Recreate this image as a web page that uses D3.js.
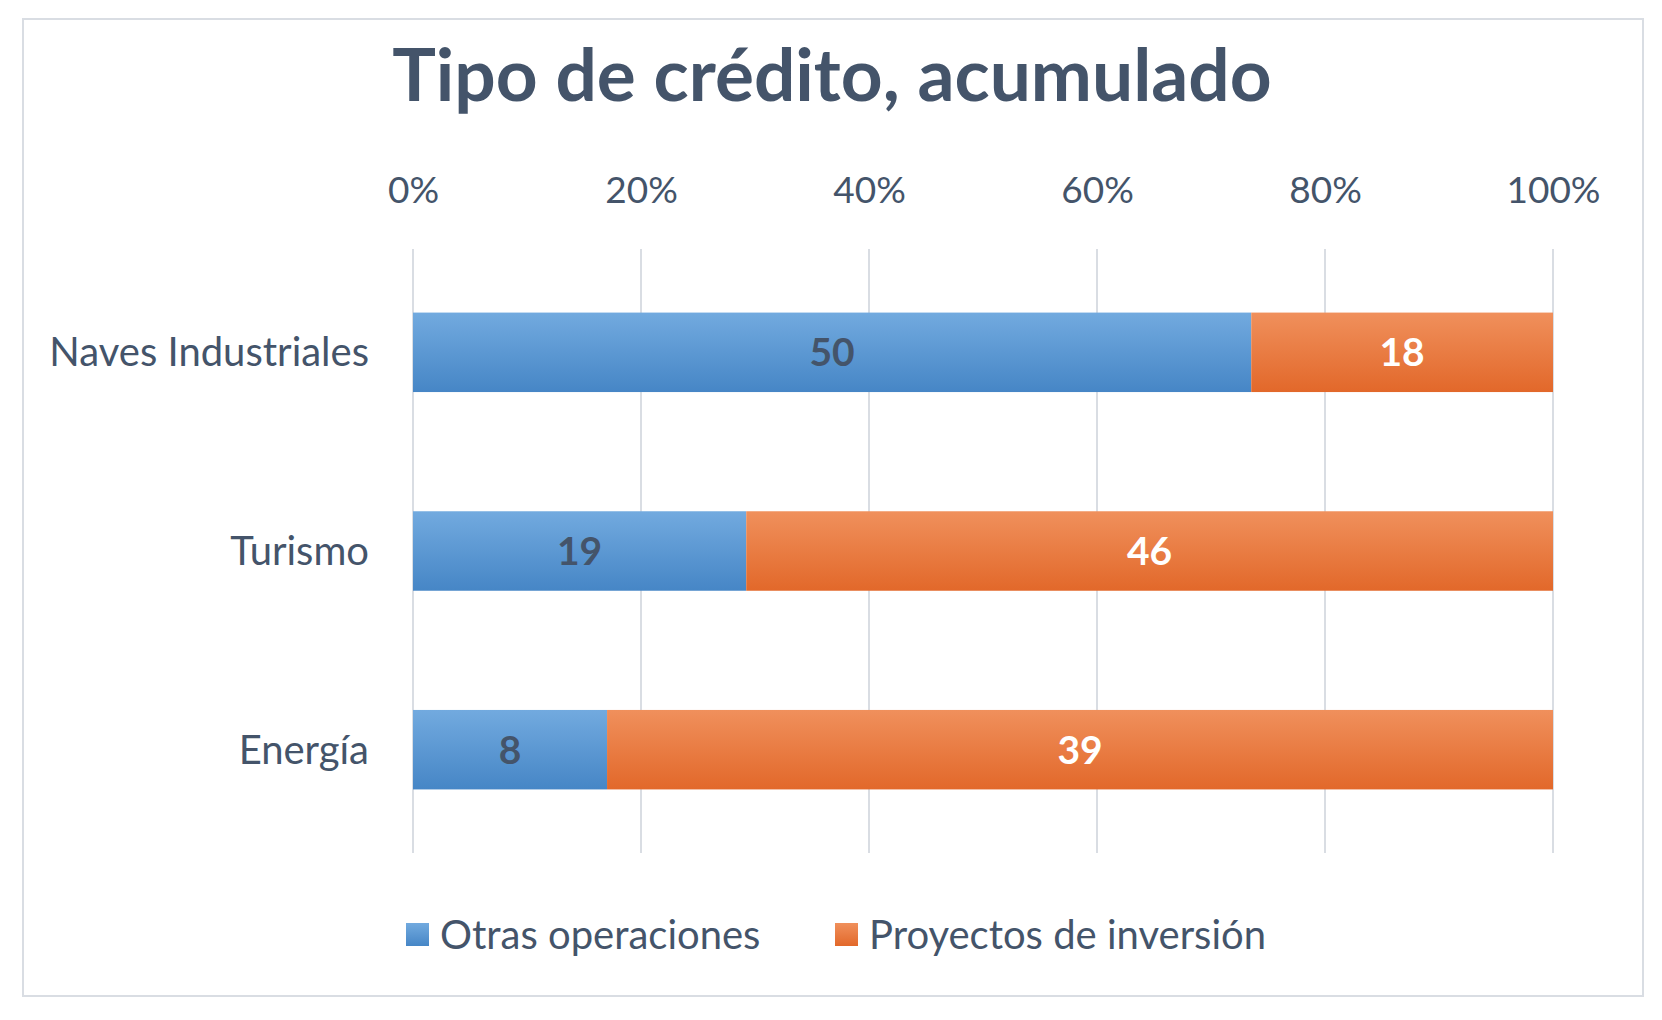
<!DOCTYPE html>
<html><head><meta charset="utf-8">
<script src="https://cdn.jsdelivr.net/npm/d3@7"></script>
<style>body{margin:0;background:#fff}text{font-family:Lato,"Open Sans",sans-serif}</style>
</head><body>
<script>
// data
var categories = ["Naves Industriales", "Turismo", "Energía"];
var otras = [50, 19, 8];
var proyectos = [18, 46, 39];
var seriesNames = ["Otras operaciones", "Proyectos de inversión"];
var tickValues = [0, 0.2, 0.4, 0.6, 0.8, 1];

var W = 1662, H = 1020;
var svg = d3.select("body").append("svg").attr("width", W).attr("height", H);

var defs = svg.append("defs");
function grad(id, c1, c2) {
    var g = defs.append("linearGradient").attr("id", id).attr("x1", 0).attr("y1", 0).attr("x2", 0).attr("y2", 1);
    g.append("stop").attr("offset", "0%").attr("stop-color", c1);
    g.append("stop").attr("offset", "100%").attr("stop-color", c2);
}
grad("gBlue", "#72aadf", "#4686c6");
grad("gOrange", "#f0905c", "#e2682a");

svg.append("rect").attr("x", 23).attr("y", 19).attr("width", 1620).attr("height", 977)
    .attr("fill", "#fff").attr("stroke", "#d9dde3").attr("stroke-width", 2);

svg.append("text").attr("x", 832).attr("y", 101).attr("text-anchor", "middle")
    .attr("font-size", 73).attr("font-weight", "bold").attr("fill", "#44546a")
    .text("Tipo de crédito, acumulado");

var x = d3.scaleLinear().domain([0, 1]).range([413, 1553]);
var y = d3.scaleBand().domain(categories).range([249, 853]).paddingInner(0.6).paddingOuter(0.32);

// grid
svg.selectAll(".grid").data(tickValues).enter().append("line")
    .attr("x1", d => x(d)).attr("x2", d => x(d)).attr("y1", 249).attr("y2", 853)
    .attr("stroke", "#d9dde3").attr("stroke-width", 2);

// top axis
var axis = svg.append("g").attr("transform", "translate(0,206)")
    .call(d3.axisTop(x).tickValues(tickValues).tickFormat(d3.format(".0%")).tickSize(0));
axis.select(".domain").remove();
axis.selectAll("text").attr("font-size", 37).attr("fill", "#44546a").attr("dy", 0);

// category labels
svg.selectAll(".cat").data(categories).enter().append("text")
    .attr("x", 369).attr("y", d => y(d) + y.bandwidth() / 2 + 14)
    .attr("text-anchor", "end").attr("font-size", 40).attr("fill", "#44546a").text(d => d);

var rows = categories.map((c, i) => {
    var t = otras[i] + proyectos[i];
    return {cat: c, segs: [
        {v: otras[i], x0: 0, x1: otras[i] / t, fill: "url(#gBlue)", tc: "#44546a"},
        {v: proyectos[i], x0: otras[i] / t, x1: 1, fill: "url(#gOrange)", tc: "#fff"}]};
});

var g = svg.selectAll(".row").data(rows).enter().append("g");
g.selectAll("rect").data(d => d.segs.map(s => Object.assign({cat: d.cat}, s))).enter().append("rect")
    .attr("x", d => x(d.x0)).attr("width", d => x(d.x1) - x(d.x0))
    .attr("y", d => y(d.cat)).attr("height", y.bandwidth()).attr("fill", d => d.fill);
g.selectAll("text").data(d => d.segs.map(s => Object.assign({cat: d.cat}, s))).enter().append("text")
    .attr("x", d => (x(d.x0) + x(d.x1)) / 2).attr("y", d => y(d.cat) + y.bandwidth() / 2 + 14)
    .attr("text-anchor", "middle").attr("font-size", 39).attr("font-weight", "bold")
    .attr("fill", d => d.tc).text(d => d.v);

// legend
var legX = [406, 835], legFill = ["url(#gBlue)", "url(#gOrange)"];
var lg = svg.selectAll(".leg").data(seriesNames).enter().append("g")
    .attr("transform", (d, i) => "translate(" + legX[i] + ",936)");
lg.append("rect").attr("x", 0).attr("y", -13).attr("width", 23).attr("height", 23).attr("fill", (d, i) => legFill[i]);
lg.append("text").attr("x", 34).attr("y", 13).attr("font-size", 40).attr("fill", "#44546a").text(d => d);
</script>
</body></html>
